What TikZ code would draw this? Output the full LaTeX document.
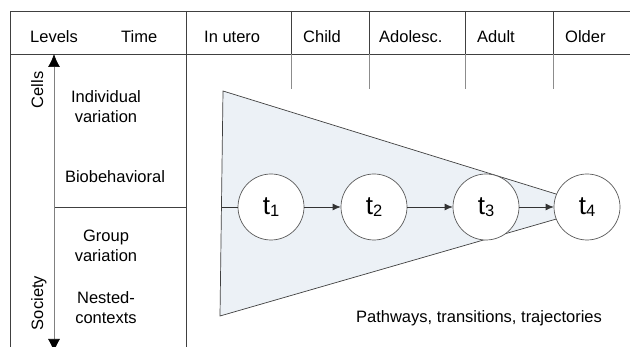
\documentclass[tikz,border=0pt]{standalone}
\usepackage{fontspec}
\setmainfont{Liberation Sans}
\usetikzlibrary{arrows.meta}
\definecolor{conefill}{RGB}{236,241,246}
\newcommand{\tlab}[1]{t\raisebox{-2.5pt}{\fontsize{16.5}{16.5}\selectfont #1}}
\begin{document}
\begin{tikzpicture}[x=1pt,y=-1pt,
	rule/.style={draw=black!75,line width=0.7pt},
	tick/.style={draw=black!45,line width=0.7pt},
	lbl/.style={font=\fontsize{16.5}{20}\selectfont,inner sep=0pt,align=center},
	stage/.style={circle,draw=black!65,fill=white,line width=0.7pt,minimum size=66pt,inner sep=0pt,font=\fontsize{26}{26}\selectfont},
	flow/.style={draw=black!80,line width=0.7pt,-{Latex[length=8pt,width=7pt]}},
	axis/.style={draw=black!50,line width=0.7pt,{Latex[length=13pt,width=12pt,color=black]}-{Latex[length=13pt,width=12pt,color=black]}}]
			\useasboundingbox (0,0) rectangle (630,347);
			\fill[white] (0,0) rectangle (630,347);
			% table frame
			\draw[rule] (630,11) -- (10,11) -- (10,347);
			\draw[rule] (10,54) -- (630,54);
			\draw[rule] (186,11) -- (186,347);
			\draw[rule] (54,207) -- (186,207);
			\foreach \x in {291,369,465,553}
				\draw[rule] (\x,11) -- (\x,54);
			\foreach \x in {291,369,465,553}
				\draw[tick] (\x,54) -- (\x,89);
			% header
			\node[lbl,anchor=base west] (levels) at (30,43) {Levels};
			\node[lbl,anchor=base west] (time) at (121,43) {Time};
			\foreach \x/\lab in {204/In utero,303/Child,379/Adolesc.,477/Adult,565/Older}
				\node[lbl,anchor=base west] (h\x) at (\x,43) {\lab};
			% levels axis
			\coordinate (up) at (54,54);
			\coordinate (down) at (54,352);
			\draw[axis] (up) -- (down);
			\node[lbl,rotate=90,anchor=base] (cells) at (43,90) {Cells};
			\node[lbl,rotate=90,anchor=base] (society) at (43,303) {Society};
			\node[lbl,anchor=north] (indiv) at (106,90) {Individual\\variation};
			\node[lbl,anchor=north] (biobeh) at (115,170) {Biobehavioral};
			\node[lbl,anchor=north] (group) at (106,230) {Group\\variation};
			\node[lbl,anchor=north] (nested) at (106,291) {Nested-\\contexts};
			% cone
			\filldraw[fill=conefill,draw=black!75,line width=0.7pt] (223,91) -- (598,207) -- (220,316) -- cycle;
			\coordinate (entry) at (221.5,207);
			\foreach \i/\x in {1/271,2/374,3/486,4/587}
				\node[stage] (t\i) at (\x,207) {\tlab{\i}};
			\draw[draw=black!80,line width=0.7pt] (entry) -- (t1);
			\foreach \a/\b in {1/2,2/3,3/4}
				\draw[flow] (t\a) -- (t\b);
			\node[lbl,anchor=north] (path) at (479,310) {Pathways, transitions, trajectories};
	\end{tikzpicture}
\end{document}
